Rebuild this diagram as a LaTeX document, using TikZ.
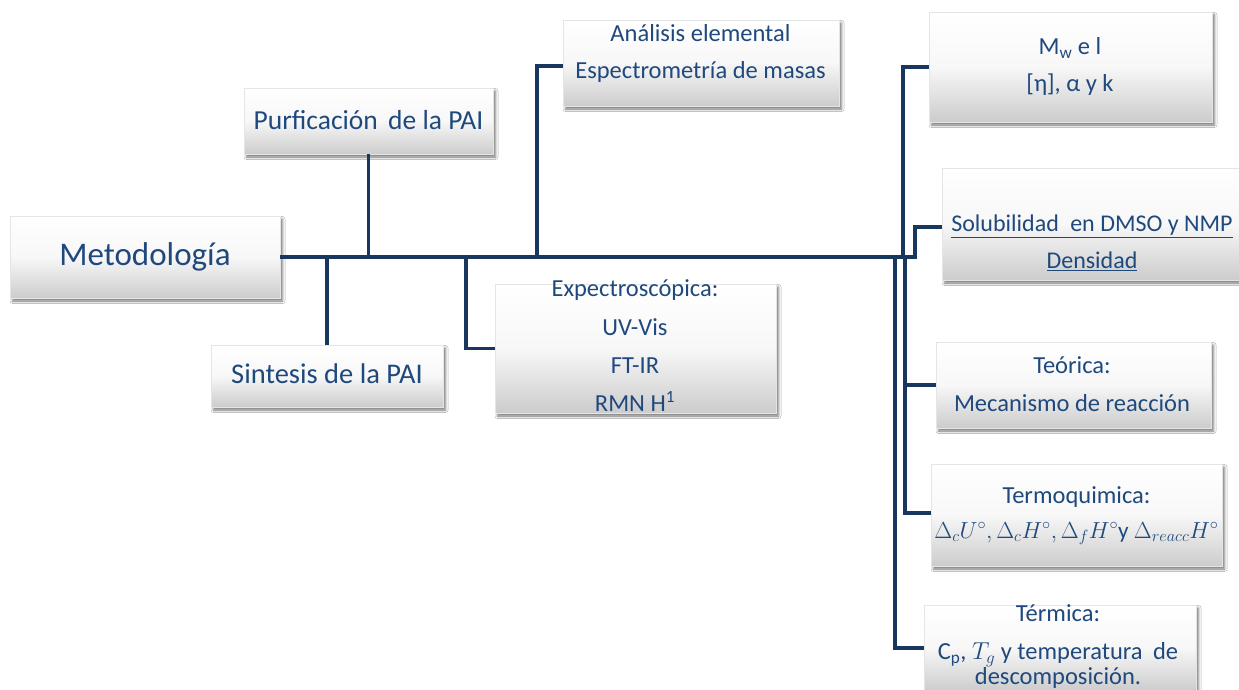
\RequirePackage{fix-cm}
\documentclass[tikz,border=0pt]{standalone}
\usepackage{fontspec}
\setmainfont{Carlito}
\usetikzlibrary{shadows.blur}
\definecolor{linec}{HTML}{17375E}
\definecolor{txtc}{HTML}{1F497D}

\begin{document}
\begin{tikzpicture}[x=1pt,y=-1pt,
  box/.style={rectangle, draw=black!10, line width=0.6pt, inner sep=0pt,
    top color=white, bottom color=black!20, middle color=white!97!black,
    blur shadow={shadow xshift=2.5pt, shadow yshift=-3pt,
      shadow blur radius=2.5pt, shadow opacity=55}},
  % multi-line labels are anchored at the baseline of their last line
  lbl/.style={text=txtc, align=center, inner sep=0pt, anchor=base},
  big/.style={font=\fontsize{33}{40}\selectfont},
  mid/.style={font=\fontsize{28.5}{34}\selectfont},
  small/.style={font=\fontsize{24.5}{37.5}\selectfont},
  link/.style={draw=linec, line width=3.6pt},
  ]
\useasboundingbox (0,0) rectangle (1239,690);
\clip (0,0) rectangle (1239,690);
\fill[white] (0,0) rectangle (1239,690);

% boxes
\node[box, minimum width=270, minimum height=82]  (met) at (145,257)    {};
\node[box, minimum width=249, minimum height=66]  (pur) at (368.5,121)  {};
\node[box, minimum width=232, minimum height=62]  (sin) at (327,376)    {};
\node[box, minimum width=276, minimum height=86]  (ana) at (701,63)     {};
\node[box, minimum width=281, minimum height=129] (exp) at (635.5,348.5) {};
\node[box, minimum width=283, minimum height=110] (mw)  at (1070.5,67)  {};
\node[box, minimum width=308, minimum height=112] (sol) at (1096,224)   {};
\node[box, minimum width=275, minimum height=86]  (teo) at (1073.5,385) {};
\node[box, minimum width=291, minimum height=102] (tq)  at (1076.5,515) {};
\node[box, minimum width=272, minimum height=86]  (tm)  at (1060,648)   {};

% labels
\node[lbl, big]   (met-t) at (145,265)     {Metodología};
\node[lbl, font=\fontsize{27.5}{33}\selectfont] (pur-t) at (368.5,130)
  {Purficación\hspace{0.15em} de la PAI};
\node[lbl, mid]   (sin-t) at (327,383)     {Sintesis de la PAI};
\node[lbl, small] (ana-t) at (700.5,79)    {Análisis elemental\\Espectrometría de masas};
\node[lbl, small, font=\fontsize{24.5}{38.3}\selectfont] (exp-t) at (635,411.7)
  {Expectroscópica:\\UV-Vis\\FT-IR\\RMN H\textsuperscript{1}};
\node[lbl, small, font=\fontsize{24.5}{37}\selectfont] (mw-t) at (1070,92)
  {M\textsubscript{w} e l\\{}[η], α y k};
\node[lbl, font=\fontsize{24}{36.7}\selectfont] (sol-t) at (1092,268.3)
  {\underline{Solubilidad\hspace{0.25em} en DMSO y NMP}\\\underline{Densidad}};
\node[lbl, small, font=\fontsize{24.5}{37.7}\selectfont] (teo-t) at (1072,411)
  {Teórica:\\Mecanismo de reacción};
\node[lbl, small, font=\fontsize{24.5}{35}\selectfont] (tq-t) at (1076.5,538.3)
  {Termoquimica:\\{\fontsize{23.2}{35}\selectfont$\Delta_c U^\circ, \Delta_c H^\circ, \Delta_f H^\circ$y $\Delta_{reacc} H^\circ$}};
\node[lbl, small, font=\fontsize{24.5}{38.3}\selectfont] (tm-t) at (1058,684)
  {Térmica:\\C\textsubscript{p}, $T_g$ y temperatura\hspace{0.2em} de\\[-14pt]descomposición.};

% connectors
\coordinate (hub) at (903,257);
\coordinate (ja)  at (537,257);
\coordinate (je)  at (466,257);
\draw[link] (met.east) -- (hub);
\draw[link] (pur.south) -- (pur.south |- hub);
\draw[link] (sin.north) -- (sin.north |- hub);
\draw[link] (ja) |- ([yshift=-3pt]ana.west);
\draw[link] (je) |- (exp.west);
\draw[link] (hub) |- (mw.west);
\draw[link] (hub) -- ++(12,0) |- ([yshift=-3pt]sol.west);
\draw[link] (hub) -- ++(2,0) |- (teo.west);
\draw[link] (hub) -- ++(2,0) |- ([yshift=2pt]tq.west);
\draw[link] (hub) -- ++(-8,0) |- (tm.west);
\end{tikzpicture}
\end{document}
